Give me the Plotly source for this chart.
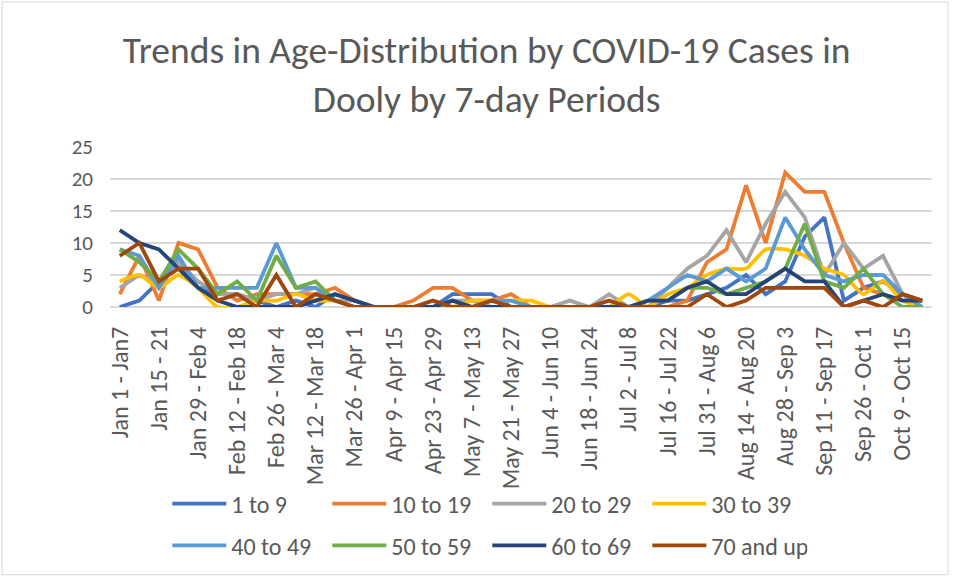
import plotly.graph_objects as go

categories = [
    "Jan 1 - Jan7", "Jan 8 - 14", "Jan 15 - 21", "Jan 22 - 28", "Jan 29 - Feb 4",
    "Feb 5 - Feb 11", "Feb 12 - Feb 18", "Feb 19 - Feb 25", "Feb 26 - Mar 4",
    "Mar 5 - Mar 11", "Mar 12 - Mar 18", "Mar 19 - Mar 25", "Mar 26 - Apr 1",
    "Apr 2 - Apr 8", "Apr 9 - Apr 15", "Apr 16 - Apr 22", "Apr 23 - Apr 29",
    "Apr 30 - May 6", "May 7 - May 13", "May 14 - May 20", "May 21 - May 27",
    "May 28 - Jun 3", "Jun 4 - Jun 10", "Jun 11 - Jun 17", "Jun 18 - Jun 24",
    "Jun 25 - Jul 1", "Jul 2 - Jul 8", "Jul 9 - Jul 15", "Jul 16 - Jul 22",
    "Jul 23 - Jul 30", "Jul 31 - Aug 6", "Aug 7 - Aug 13", "Aug 14 - Aug 20",
    "Aug 21 - Aug 27", "Aug 28 - Sep 3", "Sep 4 - Sep 10", "Sep 11 - Sep 17",
    "Sep 18 - Sep 25", "Sep 26 - Oct 1", "Oct 2 - Oct 8", "Oct 9 - Oct 15",
    "Oct 16 - Oct 22",
]
tick_labels = categories[::2]

age_1_9 =    [0, 1, 4, 7, 3, 2, 2, 1, 0, 1, 0, 2, 1, 0, 0, 0, 0, 2, 2, 2, 0, 0, 0, 0, 0, 0, 0, 0, 1, 1, 2, 3, 5, 2, 4, 11, 14, 1, 3, 4, 2, 1]
age_10_19 =  [2, 8, 1, 10, 9, 3, 1, 2, 2, 2, 2, 3, 1, 0, 0, 1, 3, 3, 1, 1, 2, 0, 0, 0, 0, 0, 0, 0, 0, 1, 7, 9, 19, 10, 21, 18, 18, 10, 3, 2, 1, 1]
age_20_29 =  [3, 5, 4, 7, 4, 2, 2, 1, 2, 2, 3, 1, 1, 0, 0, 0, 0, 1, 1, 0, 0, 0, 0, 1, 0, 2, 0, 0, 3, 6, 8, 12, 7, 13, 18, 14, 5, 10, 6, 8, 2, 1]
age_30_39 =  [4, 5, 3, 5, 3, 0, 0, 1, 1, 2, 1, 1, 0, 0, 0, 0, 0, 0, 1, 1, 1, 1, 0, 0, 0, 0, 2, 0, 2, 3, 5, 6, 6, 9, 9, 8, 6, 5, 2, 4, 1, 0]
age_40_49 =  [9, 8, 3, 8, 3, 3, 3, 3, 10, 3, 3, 1, 0, 0, 0, 0, 0, 1, 0, 1, 1, 0, 0, 0, 0, 0, 0, 1, 3, 5, 4, 6, 4, 6, 14, 9, 5, 4, 5, 5, 2, 0]
age_50_59 =  [9, 7, 4, 9, 6, 2, 4, 1, 8, 3, 4, 1, 0, 0, 0, 0, 0, 0, 0, 0, 0, 0, 0, 0, 0, 0, 0, 1, 1, 3, 3, 2, 3, 4, 6, 13, 4, 3, 6, 2, 0, 0]
age_60_69 =  [12, 10, 9, 6, 3, 1, 0, 0, 0, 0, 1, 2, 1, 0, 0, 0, 0, 1, 0, 0, 0, 0, 0, 0, 0, 0, 0, 1, 1, 3, 4, 2, 2, 4, 6, 4, 4, 0, 1, 2, 1, 1]
age_70_up =  [8, 10, 4, 6, 6, 1, 2, 0, 5, 0, 2, 1, 0, 0, 0, 0, 1, 0, 0, 1, 0, 0, 0, 0, 0, 1, 0, 0, 0, 0, 2, 0, 1, 3, 3, 3, 3, 0, 1, 0, 2, 1]

series_names = ["1 to 9", "10 to 19", "20 to 29", "30 to 39",
                "40 to 49", "50 to 59", "60 to 69", "70 and up"]
series_values = [age_1_9, age_10_19, age_20_29, age_30_39,
                 age_40_49, age_50_59, age_60_69, age_70_up]
colors = ["#4472C4", "#ED7D31", "#A5A5A5", "#FFC000",
          "#5B9BD5", "#70AD47", "#264478", "#9E480E"]

FONT = "Calibri, Carlito, Lato, sans-serif"
TXT = "#595959"

fig = go.Figure()
for k, (name, vals, col) in enumerate(zip(series_names, series_values, colors)):
    shape = "spline" if name == "30 to 39" else "linear"
    fig.add_trace(go.Scatter(
        x=categories, y=vals, name=name, mode="lines",
        line=dict(color=col, width=3.8, shape=shape, smoothing=0.6),
        legend="legend" if k < 4 else "legend2",
    ))

legend_common = dict(
    orientation="h", xanchor="left", yanchor="middle",
    entrywidth=91, entrywidthmode="pixels", itemwidth=54,
    font=dict(size=24, color=TXT), bgcolor="rgba(0,0,0,0)",
)

fig.update_layout(
    width=958, height=578,
    margin=dict(l=110, r=26, t=147, b=271, autoexpand=False),
    paper_bgcolor="white", plot_bgcolor="white",
    font=dict(family=FONT, color=TXT, size=20),
    title=dict(
        text="Trends in Age-Distribution by COVID-19 Cases in<br>Dooly by 7-day Periods",
        x=0.508, xanchor="center", y=0.891, yanchor="top",
        font=dict(family="Calibri Light, Carlito, Lato, sans-serif", size=37.5,
                  color=TXT, weight=300),
    ),
    xaxis=dict(
        type="category", categoryorder="array", categoryarray=categories,
        range=[-0.5, len(categories) - 0.5], automargin=False,
        tickvals=tick_labels, ticktext=tick_labels, tickangle=-90,
        showgrid=False, showline=False, ticks="", zeroline=False,
        ticklabelstandoff=14,
        tickfont=dict(size=24, color=TXT),
    ),
    yaxis=dict(
        range=[0, 25], tickvals=[0, 5, 10, 15, 20, 25], automargin=False,
        showgrid=True, gridcolor="#d9d9d9", gridwidth=1.6,
        zeroline=True, zerolinecolor="#d9d9d9", zerolinewidth=1.6,
        showline=False, ticks="", ticklabelstandoff=16,
        tickfont=dict(size=21, color=TXT),
    ),
    legend=dict(x=0.0697, y=-1.231, **legend_common),
    legend2=dict(x=0.0697, y=-1.4925, **legend_common),
    shapes=[dict(type="rect", xref="paper", yref="paper",
                 x0=-0.1314, x1=1.0195, y0=-1.673, y1=1.907,
                 line=dict(color="#d9d9d9", width=1), fillcolor="rgba(0,0,0,0)",
                 layer="below")],
)

fig.write_html("out.html", config={"displayModeBar": False},
               post_script="document.body.style.margin='0';")
